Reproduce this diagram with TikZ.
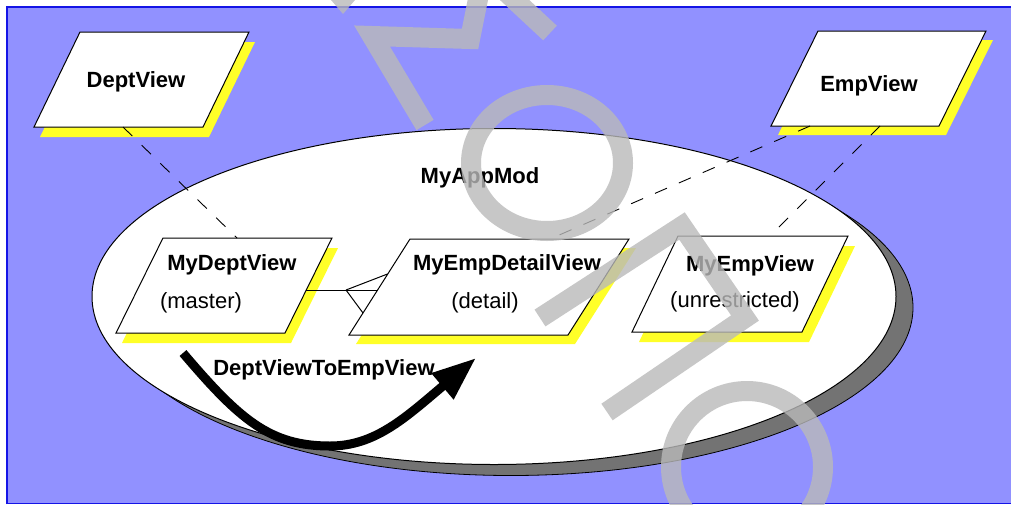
\documentclass[tikz,border=0pt]{standalone}
\usepackage{fontspec}
\setmainfont{Liberation Sans}
\usetikzlibrary{arrows.meta}
\definecolor{bluebg}{RGB}{145,145,255}
\definecolor{blueline}{RGB}{20,20,230}
\definecolor{shadowyellow}{RGB}{255,255,40}
\definecolor{ellshadow}{RGB}{115,115,115}
\definecolor{wmgray}{RGB}{185,185,185}
\tikzset{
  box/.style={draw=black, line width=1pt, fill=white, line join=miter},
  boxshadow/.style={fill=shadowyellow, draw=none},
  title/.style={font=\bfseries\fontsize{22}{26}\selectfont, inner sep=0pt, anchor=base},
  subtitle/.style={font=\fontsize{22}{26}\selectfont, inner sep=0pt, anchor=base},
  link/.style={draw=black, line width=0.9pt, dash pattern=on 13pt off 13pt},
  rel/.style={draw=black, line width=1pt},
  bigarrow/.style={draw=black, line width=9pt, -{Triangle[length=44pt,width=32pt]}},
  wm/.style={draw=wmgray, line width=20pt, opacity=0.8},
}
% #1 name, #2 x top-left, #3 y top, #4 width, #5 height, #6 skew, #7 shadow dx, #8 shadow dy
\newcommand\pgram[8]{%
  \fill[boxshadow] (#2+#7,#3+#8) -- ++(#4,0) -- ++(-#6,#5) -- ++(-#4,0) -- cycle;
  \draw[box] (#2,#3) coordinate (#1-tl) -- ++(#4,0) coordinate (#1-tr)
     -- ++(-#6,#5) coordinate (#1-br) -- ++(-#4,0) coordinate (#1-bl) -- cycle;
}
\begin{document}
\begin{tikzpicture}[x=1pt,y=-1pt]
\useasboundingbox (0,0) rectangle (1011,504);
\fill[white] (0,0) rectangle (1011,504);
\fill[bluebg] (7,7) rectangle (1011,504);
\draw[blueline, line width=1.5pt] (7,504) -- (7,7) -- (1011,7);
\draw[blueline, line width=1pt] (7,503.5) -- (1011,503.5);

% module ellipse with shadow
\filldraw[fill=ellshadow, draw=black, line width=0.8pt] (511,307.5) ellipse [x radius=402, y radius=168];
\filldraw[fill=white, draw=black, line width=1pt] (494,296.5) coordinate (mod) ellipse [x radius=402, y radius=168];
\node[title] (modlabel) at (480,183) {MyAppMod};

% view objects
\pgram{dv}{80}{32}{169}{95}{46}{6}{10}
\pgram{ev}{818}{31}{168}{95}{47}{7}{9}
\pgram{mdv}{163}{238}{169}{95}{47}{6}{10}
\pgram{medv}{410}{239}{219}{96}{61}{7}{9}
\pgram{mev}{678}{236}{170}{96}{46}{7}{10}

\node[title] (dvlabel) at (136,87) {DeptView};
\node[title] (evlabel) at (869,91) {EmpView};
\node[title] (mdvlabel) at (232,270) {MyDeptView};
\node[subtitle] (mdvrole) at (201,308) {(master)};
\node[title] (medvlabel) at (507,270) {MyEmpDetailView};
\node[subtitle] (medvrole) at (485,308) {(detail)};
\node[title] (mevlabel) at (750,271) {MyEmpView};
\node[subtitle] (mevrole) at (735,307) {(unrestricted)};

% connection points on the boxes
\coordinate (dv-out) at (123,127);
\coordinate (mdv-in) at (237,238);
\coordinate (ev-out1) at (810,126);
\coordinate (medv-in) at (550,239);
\coordinate (ev-out2) at (880,126);
\coordinate (mev-in) at (770,236);
\coordinate (mdv-r) at (306,290);
\coordinate (foot) at (346,290);
\coordinate (medv-l1) at (387.5,274);
\coordinate (medv-l2) at (377.5,290);
\coordinate (medv-l3) at (363,313);

\draw[link] (dv-out) -- (mdv-in);
\draw[link] (ev-out1) -- (medv-in);
\draw[link] (ev-out2) -- (mev-in);

\draw[rel] (mdv-r) -- (medv-l2);
\draw[rel] (foot) -- (medv-l1);
\draw[rel] (foot) -- (medv-l3);

% view link arrow
\coordinate (arr-s) at (183,353);
\coordinate (arr-e) at (476,358);
\draw[bigarrow] (arr-s) .. controls (240,420) and (270,446) .. (330,446)
   .. controls (375,446) and (405,418) .. (arr-e);
\node[title] (arrlabel) at (324,375) {DeptViewToEmpView};

% watermark strokes
\fill[wmgray, opacity=0.8] (331,0) -- (343,14) -- (355,0) -- cycle;
\draw[wm, line join=miter] (479,-6) -- (470,39) -- (372,36) -- (425,125);
\draw[wm] (506,-8) -- (550,33);
\draw[wm] (547,163) ellipse [x radius=76, y radius=68];
\draw[wm, line join=miter] (540,318) -- (682,226) -- (745,318) -- (607,412);
\draw[wm] (747,467) circle [radius=76];
\end{tikzpicture}
\end{document}
